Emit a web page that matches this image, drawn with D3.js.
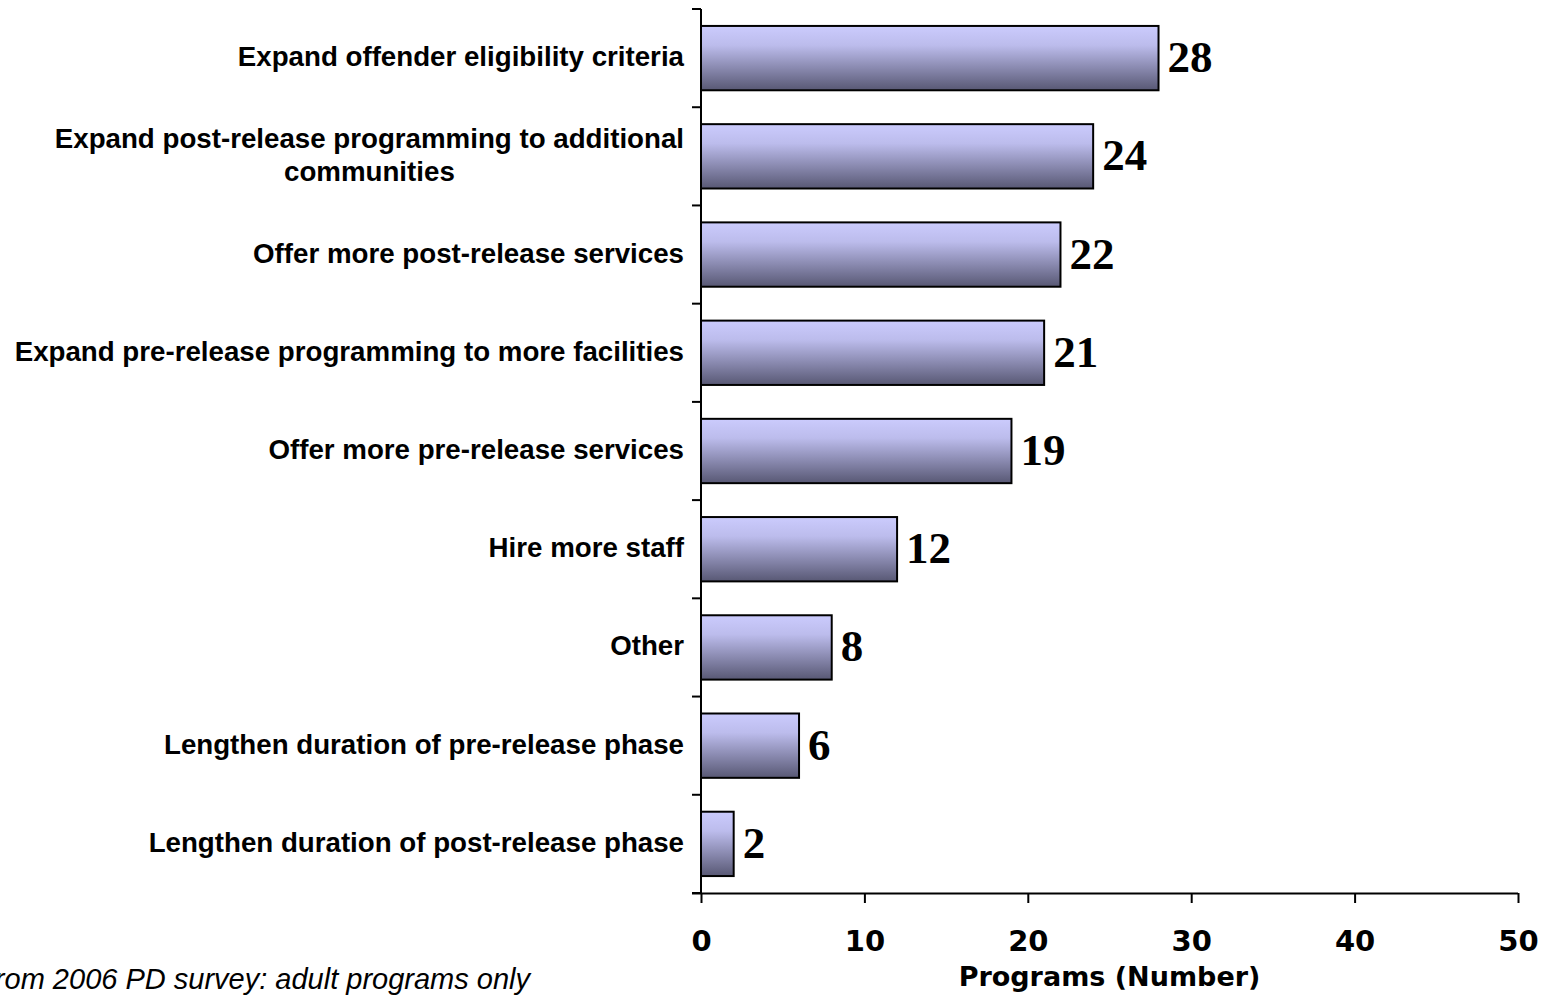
<!DOCTYPE html>
<html><head><meta charset="utf-8">
<script src="https://cdn.jsdelivr.net/npm/d3@7"></script>
<style>body{margin:0;background:#fff;} svg{display:block;}</style>
</head><body>
<svg id="chart" width="1560" height="995"></svg>
<script>
const categories = [
  "Expand offender eligibility criteria",
  "Expand post-release programming to additional|communities",
  "Offer more post-release services",
  "Expand pre-release programming to more facilities",
  "Offer more pre-release services",
  "Hire more staff",
  "Other",
  "Lengthen duration of pre-release phase",
  "Lengthen duration of post-release phase"
];
const values = [28, 24, 22, 21, 19, 12, 8, 6, 2];
const xTicks = [0, 10, 20, 30, 40, 50];
const xTitle = "Programs (Number)";
const footnote = "Data from 2006 PD survey: adult programs only";

const svg = d3.select("#chart");
const mLeft = 701, mRight = 1518, mTop = 9, mBottom = 893;
const labelFont = "'Liberation Sans',Arial,sans-serif";
const axisFont = "'DejaVu Sans',Verdana,sans-serif";

const defs = svg.append("defs");
const grad = defs.append("linearGradient").attr("id","barGrad").attr("x1",0).attr("y1",0).attr("x2",0).attr("y2",1);
grad.append("stop").attr("offset","0%").attr("stop-color","#cbcbfd");
grad.append("stop").attr("offset","30%").attr("stop-color","#bcbcec");
grad.append("stop").attr("offset","100%").attr("stop-color","#585874");

const x = d3.scaleLinear().domain([0,50]).range([mLeft,mRight]);
const y = d3.scaleBand().domain(categories).range([mTop,mBottom]).paddingInner(0.345).paddingOuter(0.1725);

// bars
svg.append("g").selectAll("rect").data(values).join("rect")
  .attr("x", x(0))
  .attr("y", (d,i)=>y(categories[i]))
  .attr("width", d=>x(d)-x(0))
  .attr("height", y.bandwidth())
  .attr("fill","url(#barGrad)")
  .attr("stroke","#000").attr("stroke-width",2);

// value labels
svg.append("g").selectAll("text").data(values).join("text")
  .attr("x", d=>x(d)+9)
  .attr("y", (d,i)=>y(categories[i])+y.bandwidth()/2+14)
  .attr("font-family","'Liberation Serif','Times New Roman',serif")
  .attr("font-weight","bold").attr("font-size",45)
  .text(d=>d);

// x axis
const xAxis = svg.append("g").attr("transform",`translate(0,${mBottom})`)
  .call(d3.axisBottom(x).tickValues(xTicks).tickSize(10).tickFormat(d3.format("d")));
xAxis.select(".domain").attr("d",`M${mLeft-9},0.5H${mRight}`).attr("stroke","#000").attr("stroke-width",2);
xAxis.selectAll(".tick line").attr("stroke","#000").attr("stroke-width",2);
xAxis.selectAll(".tick text").attr("font-family",axisFont)
  .attr("font-weight","bold").attr("font-size",29).attr("fill","#000")
  .attr("dy",null).attr("y",58);

// y axis line and boundary ticks
const yBounds = d3.range(categories.length+1).map(i=>mTop + i*(mBottom-mTop)/categories.length);
svg.append("line").attr("x1",mLeft).attr("x2",mLeft).attr("y1",mTop).attr("y2",mBottom)
  .attr("stroke","#000").attr("stroke-width",2);
svg.append("g").selectAll("line").data(yBounds).join("line")
  .attr("x1",mLeft-9).attr("x2",mLeft).attr("y1",d=>d).attr("y2",d=>d)
  .attr("stroke","#000").attr("stroke-width",2);

// category labels
const labSize = 27.7;
const lab = svg.append("g").selectAll("text").data(categories).join("text")
  .attr("font-family",labelFont)
  .attr("font-weight","bold").attr("font-size",labSize).attr("fill","#000");
lab.each(function(c){
  const lines = c.split("|");
  const t = d3.select(this);
  const cy = y(c)+y.bandwidth()/2;
  if(lines.length===1){
    t.attr("x",684).attr("y",cy+8).attr("text-anchor","end").text(lines[0]);
  } else {
    t.attr("text-anchor","middle");
    const tmp = svg.append("text").attr("font-family",labelFont)
      .attr("font-weight","bold").attr("font-size",labSize).text(lines[0]);
    const w = tmp.node().getComputedTextLength(); tmp.remove();
    const cx = 684 - w/2;
    const lh = 33;
    lines.forEach((ln,k)=>{
      t.append("tspan").attr("x",cx).attr("y",cy+8+(k-(lines.length-1)/2)*lh).text(ln);
    });
  }
});

// x title
svg.append("text").attr("x",(mLeft+mRight)/2).attr("y",986).attr("text-anchor","middle")
  .attr("font-family",axisFont).attr("font-weight","bold").attr("font-size",27)
  .text(xTitle);

// footnote (clipped at the left edge, as in the reference)
svg.append("text").attr("x",530).attr("y",989).attr("text-anchor","end")
  .attr("font-family",labelFont).attr("font-style","italic").attr("font-size",29)
  .text(footnote);
</script>
</body></html>
